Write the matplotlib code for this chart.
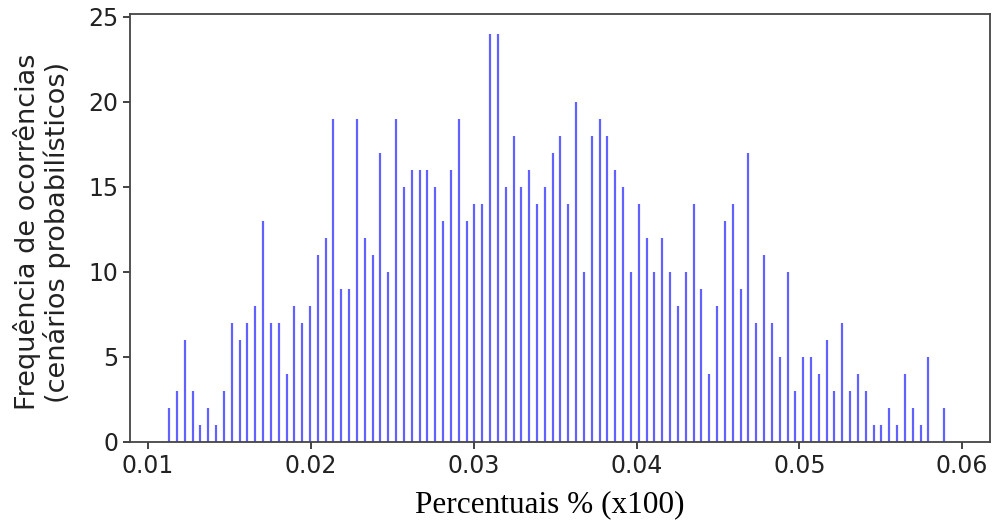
import numpy as np
import matplotlib
matplotlib.use("Agg")
import matplotlib.pyplot as plt

# Histogram counts (100 bins)
counts = [2, 3, 6, 3, 1, 2, 1, 3, 7, 6, 7, 8, 13, 7, 7, 4, 8, 7, 8, 11,
          12, 19, 9, 9, 19, 12, 11, 17, 10, 19, 15, 16, 16, 16, 15, 13, 16, 19, 13, 14,
          14, 24, 24, 15, 18, 15, 16, 14, 15, 17, 18, 14, 20, 10, 18, 19, 18, 16, 15, 10,
          14, 12, 10, 12, 10, 8, 10, 14, 9, 4, 8, 13, 14, 9, 17, 7, 11, 7, 5, 10,
          3, 5, 5, 4, 6, 3, 7, 3, 4, 3, 1, 1, 2, 1, 4, 2, 1, 5, 0, 2]
bin_min = 0.01105
bin_max = 0.05913
x_ticks = [0.01, 0.02, 0.03, 0.04, 0.05, 0.06]
x_tick_labels = ["0.01", "0.02", "0.03", "0.04", "0.05", "0.06"]
y_ticks = [0, 5, 10, 15, 20, 25]

edges = np.linspace(bin_min, bin_max, len(counts) + 1)
centers = (edges[:-1] + edges[1:]) / 2

fig = plt.figure(figsize=(9.94, 5.22), dpi=100)
ax = fig.add_axes([0.1308, 0.1533, 0.865, 0.8207])

nz = np.array(counts) > 0
ax.vlines(centers[nz], 0, np.array(counts)[nz], colors="blue", alpha=0.62,
          linewidth=1.6, capstyle="butt")

ax.set_xlim(0.00889, 0.0617)
ax.set_ylim(0, 25.2)
ax.set_xticks(x_ticks)
ax.set_xticklabels(x_tick_labels)
ax.set_yticks(y_ticks)
ax.tick_params(labelsize=17, length=5, width=1.2, colors="#222222")
for s in ax.spines.values():
    s.set_linewidth(1.3)
    s.set_color("#444444")

ax.set_ylabel("Frequência de ocorrências\n(cenários probabilísticos)",
              fontsize=19.5, color="#222222", labelpad=12, linespacing=1.1, y=0.49)
ax.set_xlabel("Percentuais % (x100)", fontsize=22.5, x=0.488,
              family=["Liberation Serif", "DejaVu Serif"], color="black", labelpad=9)

fig.savefig("out.png", dpi=100)
